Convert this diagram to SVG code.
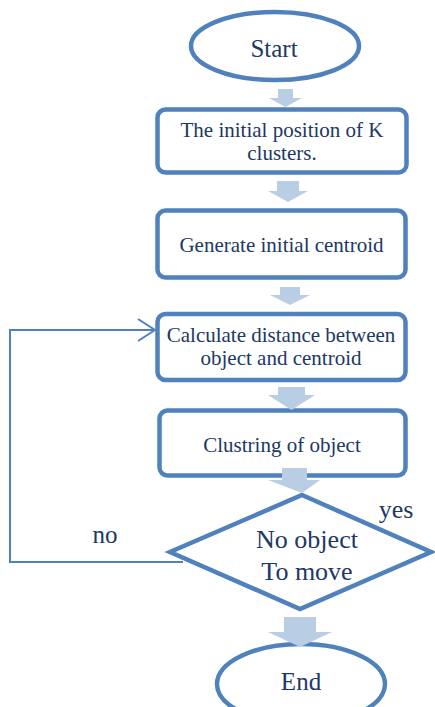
<svg xmlns="http://www.w3.org/2000/svg" width="435" height="707" viewBox="0 0 435 707">
<style>
.shape{fill:#ffffff;stroke:#4f81bd;stroke-width:4.5}
.t{font-family:"Liberation Serif","Times New Roman",serif;fill:#203864;text-anchor:middle}
.box{font-size:21px}
.big{font-size:25px}
.dia{font-size:26px}
.blk{fill:#b9cde5;stroke:none}
.fb{fill:none;stroke:#4f81bd;stroke-width:2}
</style>
<rect width="435" height="707" fill="#ffffff"/>
<g id="start">
<ellipse class="shape" cx="275" cy="46" rx="84" ry="34"/>
<text class="t big" x="274" y="57">Start</text>
</g>
<g id="init-position">
<rect class="shape" x="157.5" y="109.5" width="249" height="63" rx="8"/>
<text class="t box" x="282" y="137">The initial position of K</text>
<text class="t box" x="282" y="160">clusters.</text>
</g>
<g id="init-centroid">
<rect class="shape" x="157.5" y="210.5" width="248" height="67" rx="8"/>
<text class="t box" x="281.5" y="252">Generate initial centroid</text>
</g>
<g id="calc-distance">
<rect class="shape" x="157.5" y="314" width="248" height="66" rx="8"/>
<text class="t box" x="281" y="342">Calculate distance between</text>
<text class="t box" x="281" y="365">object and centroid</text>
</g>
<g id="clustering">
<rect class="shape" x="159.5" y="410.5" width="246" height="65" rx="8"/>
<text class="t box" x="282" y="452">Clustring of object</text>
</g>
<g id="decision">
<polygon class="shape" points="302,495 431,552 300,609 170,552"/>
<text class="t dia" x="307" y="548">No object</text>
<text class="t dia" x="307" y="580">To move</text>
</g>
<g id="end">
<ellipse class="shape" cx="301" cy="684" rx="84" ry="40"/>
<text class="t big" x="301" y="690">End</text>
</g>
<g id="connectors">
<polygon class="blk" points="278,89 293,89 293,98 302,98 285.5,107 269,98 278,98"/>
<polygon class="blk" points="277,181 299,181 299,191 308,191 288,202 268,191 277,191"/>
<polygon class="blk" points="280,287 300,287 300,295 310,295 290,305 270,295 280,295"/>
<polygon class="blk" points="278,387 305,387 305,395 315,395 291.5,410 268,395 278,395"/>
<polygon class="blk" points="282,468 307,468 307,480 320,480 302,493 268,480 282,480"/>
<polygon class="blk" points="284,617 316,617 316,632 332,632 300,647 268,632 284,632"/>
<path class="fb" d="M183,562 H10 V330 H153"/>
<path class="fb" d="M138,319 L155,330 L138,341"/>
<text class="t dia" x="396" y="518">yes</text>
<text class="t big" x="105" y="543">no</text>
</g>
</svg>
